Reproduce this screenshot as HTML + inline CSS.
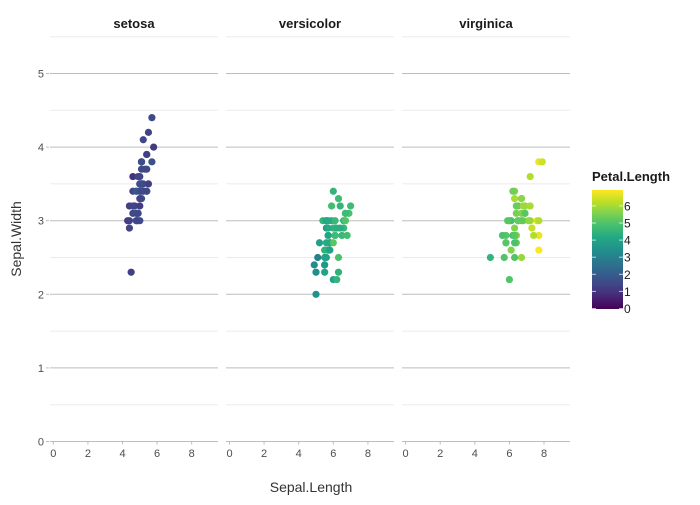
<!DOCTYPE html><html><head><meta charset="utf-8"><style>body{margin:0;background:#fff}svg{font-family:"Liberation Sans",sans-serif}</style></head><body>
<svg id="s" width="700" height="500" xmlns="http://www.w3.org/2000/svg"></svg>
<script>
const S=document.getElementById('s');let h='';
const set=`5.1 3.5 1.4;4.9 3.0 1.4;4.7 3.2 1.3;4.6 3.1 1.5;5.0 3.6 1.4;5.4 3.9 1.7;4.6 3.4 1.4;5.0 3.4 1.5;4.4 2.9 1.4;4.9 3.1 1.5;5.4 3.7 1.5;4.8 3.4 1.6;4.8 3.0 1.4;4.3 3.0 1.1;5.8 4.0 1.2;5.7 4.4 1.5;5.4 3.9 1.3;5.1 3.5 1.4;5.7 3.8 1.7;5.1 3.8 1.5;5.4 3.4 1.7;5.1 3.7 1.5;4.6 3.6 1.0;5.1 3.3 1.7;4.8 3.4 1.9;5.0 3.0 1.6;5.0 3.4 1.6;5.2 3.5 1.5;5.2 3.4 1.4;4.7 3.2 1.6;4.8 3.1 1.6;5.4 3.4 1.5;5.2 4.1 1.5;5.5 4.2 1.4;4.9 3.1 1.5;5.0 3.2 1.2;5.5 3.5 1.3;4.9 3.6 1.4;4.4 3.0 1.3;5.1 3.4 1.5;5.0 3.5 1.3;4.5 2.3 1.3;4.4 3.2 1.3;5.0 3.5 1.6;5.1 3.8 1.9;4.8 3.0 1.4;5.1 3.8 1.6;4.6 3.2 1.4;5.3 3.7 1.5;5.0 3.3 1.4`;
const ver=`7.0 3.2 4.7;6.4 3.2 4.5;6.9 3.1 4.9;5.5 2.3 4.0;6.5 2.8 4.6;5.7 2.8 4.5;6.3 3.3 4.7;4.9 2.4 3.3;6.6 2.9 4.6;5.2 2.7 3.9;5.0 2.0 3.5;5.9 3.0 4.2;6.0 2.2 4.0;6.1 2.9 4.7;5.6 2.9 3.6;6.7 3.1 4.4;5.6 3.0 4.5;5.8 2.7 4.1;6.2 2.2 4.5;5.6 2.5 3.9;5.9 3.2 4.8;6.1 2.8 4.0;6.3 2.5 4.9;6.1 2.8 4.7;6.4 2.9 4.3;6.6 3.0 4.4;6.8 2.8 4.8;6.7 3.0 5.0;6.0 2.9 4.5;5.7 2.6 3.5;5.5 2.4 3.8;5.5 2.4 3.7;5.8 2.7 3.9;6.0 2.7 5.1;5.4 3.0 4.5;6.0 3.4 4.5;6.7 3.1 4.7;6.3 2.3 4.4;5.6 3.0 4.1;5.5 2.5 4.0;5.5 2.6 4.4;6.1 3.0 4.6;5.8 2.6 4.0;5.0 2.3 3.3;5.6 2.7 4.2;5.7 3.0 4.2;5.7 2.9 4.2;6.2 2.9 4.3;5.1 2.5 3.0;5.7 2.8 4.1`;
const vir=`6.3 3.3 6.0;5.8 2.7 5.1;7.1 3.0 5.9;6.3 2.9 5.6;6.5 3.0 5.8;7.6 3.0 6.6;4.9 2.5 4.5;7.3 2.9 6.3;6.7 2.5 5.8;7.2 3.6 6.1;6.5 3.2 5.1;6.4 2.7 5.3;6.8 3.0 5.5;5.7 2.5 5.0;5.8 2.8 5.1;6.4 3.2 5.3;6.5 3.0 5.5;7.7 3.8 6.7;7.7 2.6 6.9;6.0 2.2 5.0;6.9 3.2 5.7;5.6 2.8 4.9;7.7 2.8 6.7;6.3 2.7 4.9;6.7 3.3 5.7;7.2 3.2 6.0;6.2 2.8 4.8;6.1 3.0 4.9;6.4 2.8 5.6;7.2 3.0 5.8;7.4 2.8 6.1;7.9 3.8 6.4;6.4 2.8 5.6;6.3 2.8 5.1;6.1 2.6 5.6;7.7 3.0 6.1;6.3 3.4 5.6;6.4 3.1 5.5;6.0 3.0 4.8;6.9 3.1 5.4;6.7 3.1 5.6;6.9 3.1 5.1;5.8 2.7 5.1;6.8 3.2 5.9;6.7 3.3 5.7;6.7 3.0 5.2;6.3 2.5 5.0;6.5 3.0 5.2;6.2 3.4 5.4;5.9 3.0 5.1`;
const vs=['#440154','#482475','#414487','#355f8d','#2a788e','#21918c','#22a884','#44bf70','#7ad151','#bddf26','#fde725'];
function hex(c){return [1,3,5].map(i=>parseInt(c.substr(i,2),16))}
function col(v){let t=Math.max(0,Math.min(1,v/6.9))*10,i=Math.min(9,Math.floor(t)),f=t-i,a=hex(vs[i]),b=hex(vs[i+1]);return 'rgb('+a.map((x,k)=>Math.round(x+(b[k]-x)*f)).join(',')+')'}
const Y=v=>441.5-v*73.6;
const panels=[[50,218,53.3,'setosa',set],[226,394,229.5,'versicolor',ver],[402,570,405.6,'virginica',vir]];
for(const [x1,x2,x0,name,d] of panels){
 for(let v=0.5;v<=5.5;v+=1)h+=`<line x1="${x1}" x2="${x2}" y1="${Y(v)}" y2="${Y(v)}" stroke="#ebebeb" stroke-width="1"/>`;
 for(let v=1;v<=5;v++)h+=`<line x1="${x1}" x2="${x2}" y1="${Y(v)}" y2="${Y(v)}" stroke="#bdbdbd" stroke-width="1"/>`;
 h+=`<line x1="${x1}" x2="${x2}" y1="${Y(0)}" y2="${Y(0)}" stroke="#bdbdbd" stroke-width="1"/>`;
 for(let k=0;k<=8;k+=2){const x=x0+k*17.3;h+=`<line x1="${x}" x2="${x}" y1="${Y(0)}" y2="${Y(0)+3}" stroke="#bdbdbd"/><text x="${x}" y="457" font-size="11" fill="#4d4d4d" text-anchor="middle">${k}</text>`;}
 h+=`<text x="${(x1+x2)/2}" y="28" font-size="13" font-weight="bold" text-anchor="middle" fill="#1a1a1a">${name}</text>`;
 for(const r of d.split(';')){const [a,b,c]=r.split(' ').map(Number);h+=`<circle cx="${x0+a*17.3}" cy="${Y(b)}" r="3.6" fill="${col(c)}"/>`;}
}
for(let v=0;v<=5;v++)h+=`<text x="44" y="${Y(v)+4}" font-size="11" fill="#4d4d4d" text-anchor="end">${v}</text><line x1="46" x2="49" y1="${Y(v)}" y2="${Y(v)}" stroke="#bdbdbd"/>`;
h+=`<text x="311" y="492" font-size="14" fill="#333" text-anchor="middle">Sepal.Length</text>`;
h+=`<text transform="translate(21,239) rotate(-90)" font-size="14" fill="#333" text-anchor="middle">Sepal.Width</text>`;
h+=`<text x="592" y="181" font-size="13" font-weight="bold" fill="#1a1a1a">Petal.Length</text>`;
h+=`<defs><linearGradient id="g" x1="0" y1="1" x2="0" y2="0">`+vs.map((c,i)=>`<stop offset="${i/10}" stop-color="${c}"/>`).join('')+`</linearGradient></defs>`;
h+=`<rect x="592" y="190" width="31" height="119" fill="url(#g)"/>`;
for(let v=0;v<=6;v++){const y=308.5-v*17.1;h+=`<line x1="592" x2="596" y1="${y}" y2="${y}" stroke="#fff" stroke-opacity=".7"/><line x1="619" x2="623" y1="${y}" y2="${y}" stroke="#fff" stroke-opacity=".7"/><text x="624" y="${y+4.5}" font-size="12" fill="#1a1a1a">${v}</text>`;}
S.innerHTML=h;
</script></body></html>
